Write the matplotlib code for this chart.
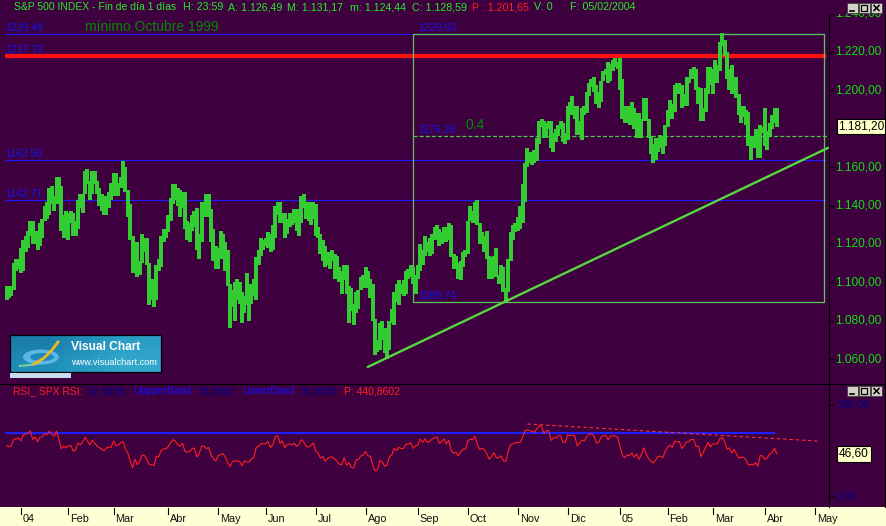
import numpy as np
import pandas as pd
import matplotlib
matplotlib.use("Agg")
import matplotlib.pyplot as plt
from matplotlib.patches import Rectangle, Ellipse

plt.rcParams['font.family'] = ['Liberation Sans', 'DejaVu Sans']
plt.rcParams['lines.scale_dashes'] = False

# ---------------- data (S&P 500 daily bars, 23-Dec-2003 .. 08-Apr-2005) ----------------
pre_close = [1043.6, 1034.2, 1042.4, 1033.7, 1035.3, 1052.1, 1053.9, 1058.5, 1058.2,
             1070.1, 1066.6, 1064.7, 1069.7, 1061.5, 1069.3, 1060.2, 1059.1, 1068.0,
             1071.2, 1068.0, 1075.1, 1076.5, 1089.2, 1088.7, 1092.9]

close = [
    1096.0, 1094.0, 1095.9, 1109.5, 1109.6, 1111.9,
    1108.5, 1122.2, 1123.7, 1126.3, 1131.9, 1121.9, 1127.2, 1121.2, 1130.5, 1132.1, 1139.8, 1138.8, 1147.6, 1143.9, 1141.6, 1155.4, 1144.1, 1128.5, 1134.1, 1131.1,
    1135.3, 1136.0, 1126.5, 1128.6, 1142.8, 1139.8, 1145.5, 1157.8, 1152.1, 1145.8, 1157.0, 1151.8, 1147.1, 1144.1, 1141.0, 1139.1, 1143.7, 1144.9, 1144.9,
    1156.0, 1149.1, 1151.0, 1154.9, 1156.9, 1147.2, 1140.6, 1123.9, 1106.8, 1120.6, 1104.5, 1110.7, 1123.8, 1122.3, 1109.8, 1095.4, 1094.0, 1091.3, 1109.2, 1108.1, 1122.5, 1127.0, 1126.2,
    1132.2, 1141.8, 1150.6, 1148.2, 1140.5, 1139.3, 1145.2, 1129.4, 1128.2, 1128.8, 1134.6, 1135.8, 1118.2, 1124.1, 1139.9, 1140.6, 1135.5, 1138.1, 1122.4, 1113.9, 1107.3,
    1117.5, 1119.6, 1121.5, 1114.0, 1098.7, 1087.1, 1095.5, 1097.3, 1096.4, 1095.7, 1084.1, 1091.5, 1088.7, 1089.2, 1093.6, 1095.4, 1113.1, 1114.9, 1121.3, 1120.7,
    1121.2, 1125.0, 1116.6, 1122.5, 1140.4, 1142.2, 1131.3, 1136.5, 1125.3, 1132.0, 1133.6, 1132.1, 1135.0, 1130.3, 1134.4, 1144.1, 1140.7, 1134.4, 1133.4, 1136.2, 1140.8,
    1128.9, 1125.4, 1116.2, 1118.3, 1109.1, 1112.8, 1114.4, 1115.1, 1111.5, 1106.7, 1101.4, 1100.9, 1108.7, 1093.9, 1096.8, 1086.2, 1084.1, 1094.8, 1095.4, 1100.4, 1101.7,
    1106.6, 1099.7, 1098.6, 1080.7, 1064.0, 1065.2, 1079.0, 1075.8, 1063.2, 1064.8, 1079.3, 1081.7, 1095.2, 1091.2, 1098.4, 1095.7, 1096.2, 1105.0, 1105.1, 1107.8, 1099.2, 1104.2,
    1105.9, 1118.3, 1113.6, 1121.3, 1116.3, 1118.4, 1123.9, 1125.8, 1128.3, 1120.4, 1123.5, 1128.6, 1122.2, 1129.3, 1113.6, 1108.4, 1110.1, 1103.5, 1110.1, 1114.8, 1114.6,
    1131.5, 1135.2, 1134.5, 1142.1, 1130.7, 1122.1, 1124.4, 1121.8, 1113.7, 1103.3, 1108.2, 1114.0, 1103.2, 1103.7, 1106.5, 1095.7, 1094.8, 1111.1, 1125.4, 1127.4, 1130.2,
    1130.5, 1130.6, 1143.2, 1161.7, 1166.2, 1164.9, 1164.1, 1162.9, 1173.5, 1184.2, 1183.8, 1175.4, 1181.9, 1183.6, 1170.3, 1177.2, 1176.9, 1181.8, 1182.7, 1173.8, 1173.8,
    1191.4, 1190.3, 1191.2, 1190.3, 1177.1, 1182.8, 1189.2, 1188.0, 1198.7, 1203.4, 1205.7, 1203.2, 1194.2, 1194.7, 1205.5, 1209.6, 1210.1, 1204.9, 1213.5, 1213.5, 1213.6, 1211.9,
    1202.1, 1188.1, 1183.7, 1187.9, 1186.2, 1190.3, 1183.0, 1187.7, 1177.5, 1184.5, 1196.0, 1184.6, 1175.4, 1167.9, 1163.8, 1168.4, 1174.1, 1174.6, 1171.4, 1181.3,
    1189.4, 1193.2, 1189.9, 1203.0, 1201.7, 1202.3, 1192.0, 1197.0, 1205.3, 1206.1, 1210.1, 1210.3, 1200.8, 1201.6, 1184.2, 1190.8, 1200.2, 1211.4, 1203.6,
    1210.4, 1210.1, 1210.5, 1222.1, 1225.3, 1219.4, 1207.0, 1209.3, 1200.1, 1206.8, 1197.8, 1188.1, 1190.2, 1189.7, 1183.8, 1171.7, 1172.5, 1171.4, 1174.3, 1165.4, 1181.4, 1180.6,
    1172.9, 1176.1, 1181.4, 1184.1, 1191.1, 1181.2,
]

high = [
    1098, 1098, 1098, 1110, 1112, 1112,
    1118, 1122, 1124, 1127, 1132, 1132, 1127, 1127, 1131, 1133, 1140, 1142, 1149, 1150, 1145, 1155, 1155, 1150, 1135, 1137,
    1136, 1137, 1136, 1132, 1143, 1146, 1146, 1158, 1159, 1153, 1158, 1158, 1153, 1149, 1146, 1145, 1145, 1147, 1152,
    1157, 1157, 1152, 1155, 1163, 1160, 1148, 1141, 1124, 1121, 1121, 1111, 1125, 1123, 1123, 1110, 1102, 1099, 1109, 1112, 1124, 1128, 1128,
    1135, 1144, 1151, 1151, 1149, 1148, 1147, 1147, 1132, 1131, 1135, 1137, 1139, 1125, 1142, 1142, 1146, 1146, 1138, 1128, 1119,
    1118, 1127, 1125, 1121, 1117, 1099, 1096, 1100, 1102, 1100, 1095, 1093, 1105, 1093, 1099, 1102, 1113, 1117, 1123, 1122,
    1123, 1126, 1125, 1130, 1140, 1142, 1142, 1136, 1136, 1133, 1136, 1133, 1138, 1138, 1135, 1145, 1146, 1142, 1142, 1138, 1142,
    1141, 1129, 1125, 1122, 1119, 1116, 1116, 1117, 1115, 1114, 1108, 1106, 1109, 1109, 1098, 1097, 1089, 1095, 1096, 1103, 1104,
    1108, 1106, 1102, 1099, 1081, 1070, 1079, 1080, 1076, 1069, 1080, 1086, 1095, 1099, 1101, 1099, 1101, 1106, 1107, 1109, 1108, 1104,
    1109, 1120, 1117, 1124, 1121, 1123, 1125, 1129, 1130, 1128, 1126, 1129, 1129, 1131, 1130, 1115, 1114, 1110, 1111, 1116, 1117,
    1132, 1140, 1137, 1142, 1143, 1131, 1126, 1124, 1127, 1114, 1113, 1114, 1118, 1104, 1109, 1108, 1097, 1112, 1126, 1130, 1131,
    1134, 1140, 1151, 1162, 1170, 1168, 1168, 1169, 1175, 1184, 1185, 1184, 1183, 1184, 1184, 1178, 1180, 1182, 1184, 1183, 1178,
    1192, 1194, 1197, 1192, 1192, 1184, 1191, 1192, 1199, 1204, 1206, 1207, 1203, 1199, 1205, 1210, 1211, 1215, 1214, 1216, 1217, 1215,
    1217, 1206, 1192, 1192, 1192, 1194, 1191, 1188, 1188, 1185, 1196, 1196, 1185, 1176, 1172, 1175, 1175, 1177, 1176, 1182,
    1190, 1195, 1193, 1203, 1204, 1204, 1203, 1198, 1207, 1207, 1211, 1212, 1211, 1202, 1201, 1191, 1201, 1212, 1212,
    1211, 1216, 1213, 1225, 1230, 1226, 1220, 1211, 1213, 1207, 1207, 1198, 1192, 1192, 1190, 1189, 1176, 1176, 1180, 1178, 1182, 1181,
    1191, 1179, 1183, 1187, 1191, 1191,
]

low = [
    1091, 1092, 1093, 1096, 1106, 1107,
    1105, 1106, 1116, 1118, 1124, 1120, 1120, 1117, 1119, 1123, 1132, 1133, 1135, 1141, 1137, 1141, 1143, 1127, 1123, 1127,
    1122, 1131, 1124, 1124, 1128, 1139, 1136, 1146, 1151, 1143, 1146, 1151, 1146, 1140, 1137, 1135, 1135, 1139, 1143,
    1145, 1148, 1145, 1149, 1149, 1147, 1134, 1122, 1105, 1107, 1103, 1104, 1110, 1116, 1109, 1088, 1091, 1087, 1091, 1106, 1108, 1121, 1123,
    1126, 1132, 1141, 1143, 1140, 1134, 1139, 1128, 1122, 1121, 1127, 1129, 1117, 1112, 1121, 1135, 1134, 1134, 1121, 1111, 1107,
    1107, 1112, 1113, 1106, 1098, 1076, 1087, 1080, 1091, 1089, 1079, 1084, 1088, 1080, 1089, 1093, 1091, 1109, 1114, 1117,
    1119, 1118, 1116, 1117, 1123, 1135, 1131, 1131, 1123, 1125, 1129, 1130, 1131, 1127, 1124, 1131, 1139, 1133, 1132, 1130, 1133,
    1124, 1123, 1115, 1111, 1108, 1109, 1107, 1111, 1102, 1106, 1100, 1094, 1101, 1094, 1079, 1085, 1078, 1084, 1086, 1096, 1097,
    1097, 1098, 1092, 1080, 1062, 1064, 1065, 1070, 1063, 1060, 1065, 1079, 1078, 1090, 1088, 1094, 1093, 1094, 1102, 1103, 1099, 1094,
    1102, 1106, 1109, 1114, 1116, 1114, 1115, 1122, 1123, 1119, 1120, 1123, 1121, 1122, 1113, 1107, 1107, 1102, 1101, 1108, 1113,
    1115, 1132, 1131, 1132, 1130, 1120, 1122, 1116, 1112, 1102, 1102, 1103, 1103, 1099, 1099, 1095, 1090, 1095, 1111, 1122, 1126,
    1127, 1128, 1131, 1142, 1160, 1162, 1161, 1162, 1163, 1172, 1181, 1175, 1175, 1180, 1170, 1168, 1173, 1176, 1180, 1173, 1172,
    1174, 1188, 1187, 1185, 1177, 1177, 1174, 1187, 1188, 1197, 1202, 1199, 1193, 1191, 1194, 1205, 1208, 1204, 1205, 1210, 1212, 1211,
    1200, 1185, 1183, 1183, 1182, 1184, 1180, 1175, 1175, 1175, 1184, 1184, 1175, 1167, 1162, 1164, 1168, 1170, 1167, 1171,
    1181, 1189, 1185, 1189, 1199, 1198, 1191, 1192, 1192, 1204, 1206, 1206, 1200, 1193, 1184, 1184, 1189, 1198, 1203,
    1198, 1207, 1204, 1210, 1223, 1218, 1206, 1200, 1198, 1200, 1196, 1187, 1183, 1186, 1182, 1171, 1164, 1170, 1170, 1165, 1165, 1178,
    1171, 1169, 1176, 1180, 1183, 1181,
]

holidays = ['2003-12-25', '2004-01-01', '2004-01-19', '2004-02-16', '2004-04-09', '2004-05-31',
            '2004-06-11', '2004-07-05', '2004-09-06', '2004-11-25', '2004-12-24', '2005-01-17',
            '2005-02-21', '2005-03-25']
month_starts = ['2004-01-01', '2004-02-01', '2004-03-01', '2004-04-01', '2004-05-01', '2004-06-01',
                '2004-07-01', '2004-08-01', '2004-09-01', '2004-10-01', '2004-11-01', '2004-12-01',
                '2005-01-01', '2005-02-01', '2005-03-01', '2005-04-01', '2005-05-01']
month_labels = ['04', 'Feb', 'Mar', 'Abr', 'May', 'Jun', 'Jul', 'Ago', 'Sep', 'Oct', 'Nov', 'Dic',
                '05', 'Feb', 'Mar', 'Abr', 'May']

price_ticks = [1060, 1080, 1100, 1120, 1140, 1160, 1180, 1200, 1220, 1240]
blue_levels = [1229.49, 1217.73, 1163.50, 1142.71]
red_level = 1217.73
box_start = '2004-08-30'
box_high, box_low = 1229.63, 1089.74
fib_level = 1176.26
trend_dates = ['2004-08-13', '2004-10-25']
trend_prices = [1060.72, 1090.19]
rsi_trend_dates = ['2004-11-05', '2005-05-03']
rsi_trend_vals = [79.3, 60.7]
rsi_period = 14
rsi_band = 70
last_price = 1181.20
last_rsi = 46.60

assert len(close) == len(high) == len(low)

# ---------------- layout helpers ----------------
W, H = 886, 526
BG = '#3f003f'
BAR = '#33cc33'
fig = plt.figure(figsize=(W / 100, H / 100), dpi=100)
fig.patch.set_facecolor(BG)


def px_axes(x0, y0, x1, y1):
    return fig.add_axes([x0 / W, 1 - y1 / H, (x1 - x0) / W, (y1 - y0) / H])


X0_PX, BAR_PX = 6.6, 2.3775
def xd(px):
    return (px - X0_PX) / BAR_PX

PT_PX, Y1220 = 1.92, 52.0
def price_at(ypx):
    return 1220 - (ypx - Y1220) / PT_PX

RSI_PX, Y0RSI = 0.917, 496.7
def rsi_at(ypx):
    return (Y0RSI - ypx) / RSI_PX


cbd = pd.offsets.CustomBusinessDay(holidays=holidays)
all_dates = pd.date_range('2003-12-23', '2005-06-30', freq=cbd)
idx = np.arange(len(close))


def date_idx(d):
    return int(np.searchsorted(all_dates.values, np.datetime64(pd.Timestamp(d))))


def fmt(v, nd=2):
    s = f"{v:,.{nd}f}"
    return s.replace(',', 'X').replace('.', ',').replace('X', '.')


# ---------------- price panel ----------------
ax = px_axes(0, 14, 829, 383)
ax.set_xlim(xd(0), xd(829))
ax.set_ylim(price_at(383), price_at(14))
ax.axis('off')

lx0, lx1 = xd(5), xd(826)
ax.hlines(blue_levels, lx0, lx1, colors='#1c1cff', lw=0.8, zorder=2)
ax.hlines(red_level, lx0, lx1, colors='#ff1010', lw=3.0, zorder=2)
for lv in blue_levels:
    ax.annotate(f"{lv:.2f}", (lx0, lv), xytext=(0, 3), textcoords='offset pixels',
                color='#1414f0', fontsize=7.6, va='baseline', ha='left', zorder=3)

bx0 = date_idx(box_start)
bx1 = xd(824)
ax.add_patch(Rectangle((bx0, box_low), bx1 - bx0, box_high - box_low, fill=False,
                       edgecolor='#5cc85c', lw=0.9, zorder=3))
ax.hlines(fib_level, bx0, xd(829), colors='#4cc84c', lw=0.9, linestyles=(0, (2.9, 1.5)), zorder=3)
for lv in [box_high, fib_level, box_low]:
    ax.annotate(f"{lv:.2f}", (bx0, lv), xytext=(5, 3), textcoords='offset pixels',
                color='#1414f0', fontsize=7.6, va='baseline', ha='left', zorder=3)
ax.annotate('0.4', (xd(466), fib_level), xytext=(0, 7), textcoords='offset pixels',
            color='#008a00', fontsize=10, va='baseline', ha='left', zorder=3)

# bars
ax.vlines(idx, low, high, color=BAR, lw=1.6, antialiased=False, zorder=4)

# trend line
t0, t1 = date_idx(trend_dates[0]), date_idx(trend_dates[1])
slope = (trend_prices[1] - trend_prices[0]) / (t1 - t0)
tx = np.array([xd(368), xd(828)])
ax.plot(tx, trend_prices[0] + slope * (tx - t0), color='#55d840', lw=1.7, zorder=5)

# right price scale
rax = px_axes(829, 14, 886, 383)
rax.set_xlim(0, 57)
rax.set_ylim(price_at(383), price_at(14))
rax.axis('off')
bh = 15 / PT_PX
for v in price_ticks:
    rax.plot([0, 4], [v, v], color='black', lw=0.8)
    if abs(v - last_price) < bh:
        continue  # hidden behind the last-price box
    t = rax.text(6.5, v, fmt(v), color='#10e010', fontsize=8.6, va='center', ha='left',
                 clip_on=True)
    t.set_clip_box(rax.bbox)
rax.add_patch(Rectangle((7.5, last_price - bh / 2), 50, bh, facecolor='#ffffc8',
                        edgecolor='black', lw=0.8, zorder=5))
rax.text(9, last_price, fmt(last_price), color='black', fontsize=8.6, va='center',
         ha='left', zorder=6)

# ---------------- RSI panel ----------------
allc = pd.Series(pre_close + close, dtype=float)
d = allc.diff()
up = d.clip(lower=0).ewm(alpha=1 / rsi_period, adjust=False).mean()
dn = (-d.clip(upper=0)).ewm(alpha=1 / rsi_period, adjust=False).mean()
rsi = (100 - 100 / (1 + up / dn)).values[len(pre_close):]

rx = px_axes(0, 384, 829, 507)
rx.set_xlim(xd(0), xd(829))
rx.set_ylim(rsi_at(507), rsi_at(384))
rx.axis('off')
rx.hlines(rsi_band, xd(5), xd(775), colors='#2020ff', lw=1.5, zorder=2)
rx.plot(idx, rsi, color='#ff2020', lw=0.8, zorder=3)
r0, r1 = date_idx(rsi_trend_dates[0]), date_idx(rsi_trend_dates[1])
rx.plot([r0, r1], rsi_trend_vals, color='#ff3030', lw=0.8, linestyle=(0, (2.5, 2.0)), zorder=3)

rrx = px_axes(829, 384, 886, 507)
rrx.set_xlim(0, 57)
rrx.set_ylim(rsi_at(507), rsi_at(384))
rrx.axis('off')
for v in [100, 0]:
    rrx.plot([0, 4], [v, v], color='black', lw=0.8)
    rrx.text(7, v, fmt(v), color='#00008c', fontsize=7.8, va='center', ha='left')
rh = 16 / RSI_PX
rrx.add_patch(Rectangle((7.5, last_rsi - rh / 2), 34.5, rh, facecolor='#ffffc8',
                        edgecolor='black', lw=0.8, zorder=5))
rrx.text(9.5, last_rsi, fmt(last_rsi), color='black', fontsize=8.6, va='center', ha='left', zorder=6)

# ---------------- date strip ----------------
sx = px_axes(0, 507, 886, 526)
sx.set_xlim(xd(0), xd(886))
sx.set_ylim(19, 0)
sx.axis('off')
sx.add_patch(Rectangle((0, 0), 1, 1, transform=sx.transAxes, facecolor='#ffffd6',
                       edgecolor='none', zorder=0))
for ms, lab in zip(month_starts, month_labels):
    p = date_idx(ms)
    sx.plot([p, p], [0.5, 6.5], color='black', lw=0.8, zorder=2)
    sx.text(p + 2 / BAR_PX, 12.5, lab, color='#101010', fontsize=7.8, va='center', ha='left',
            zorder=3, family=['Liberation Sans Narrow', 'Liberation Sans', 'DejaVu Sans'])

# ---------------- overlay (frame, texts, logo) ----------------
ov = px_axes(0, 0, 886, 526)
ov.set_xlim(0, 886)
ov.set_ylim(526, 0)
ov.axis('off')
ov.set_zorder(10)

lw1 = 0.75
ov.plot([829.5, 829.5], [14, 507], color='black', lw=lw1)
ov.plot([885.5, 885.5], [14, 507], color='black', lw=lw1)
ov.plot([0, 886], [383.5, 383.5], color='black', lw=lw1)

GREEN_T = '#22ee22'
hdr = [(14, 'S&P 500 INDEX - Fin de día 1 días', GREEN_T, 7.5), (183, 'H: 23:59', GREEN_T, 7.7),
       (228, 'A: 1.126,49', GREEN_T, 7.7), (287, 'M: 1.131,17', GREEN_T, 7.7),
       (350, 'm: 1.124,44', GREEN_T, 7.7), (412, 'C: 1.128,59', GREEN_T, 7.7),
       (472, 'P : 1.201,65', '#ff2020', 7.7), (534, 'V: 0', GREEN_T, 7.7),
       (570, 'F: 05/02/2004', GREEN_T, 7.7)]
for x, s, c, fs in hdr:
    ov.text(x, 7.5, s, color=c, fontsize=fs, va='center', ha='left')

rsi_hdr = [(13.5, 'RSI_.SPX RSI:', '#ff2020'), (87.5, '52,4858', '#000088'),
           (133, 'UppperBand:', '#1010ff'), (197, '70,0000', '#000088'),
           (242, 'LowerBand', '#1010ff'), (300, '30,0000', '#000088'),
           (344.5, 'P: 440,8602', '#ff2020')]
for x, s, c in rsi_hdr:
    ov.text(x, 391, s, color=c, fontsize=7.5, va='center', ha='left')

ov.text(85, 27, 'mínimo Octubre 1999', color='#008a00', fontsize=10, va='center', ha='left')


def buttons(y):
    for i, sym in enumerate(['min', 'max', 'close']):
        x = 847 + i * 12
        ov.add_patch(Rectangle((x, y), 11, 10, facecolor='#d4d0c8', edgecolor='#404040', lw=0.6))
        if sym == 'min':
            ov.plot([x + 3, x + 7], [y + 7.5, y + 7.5], color='black', lw=1.2)
        elif sym == 'max':
            ov.add_patch(Rectangle((x + 2.5, y + 2.2), 6, 5.5, fill=False, edgecolor='black', lw=0.9))
        else:
            ov.plot([x + 3, x + 8], [y + 2.5, y + 7.5], color='black', lw=1.1)
            ov.plot([x + 3, x + 8], [y + 7.5, y + 2.5], color='black', lw=1.1)


buttons(3)
buttons(386)

# logo
grad = np.array([[[0.10, 0.50, 0.67], [0.17, 0.62, 0.78]],
                 [[0.12, 0.55, 0.72], [0.20, 0.66, 0.80]]])
ov.imshow(grad, extent=(10, 161, 372, 335), aspect='auto', interpolation='bilinear', zorder=1)
ov.set_xlim(0, 886)
ov.set_ylim(526, 0)
ov.add_patch(Rectangle((10, 335), 151, 37, fill=False, edgecolor='black', lw=0.9, zorder=2))
ov.add_patch(Rectangle((10, 373), 61, 4.5, facecolor='#c8dcf0', edgecolor='none', zorder=2))
ov.add_patch(Ellipse((41, 357), 36, 15, facecolor='#5bb6ea', edgecolor='none', zorder=2))
ov.add_patch(Ellipse((42, 357), 24, 8, facecolor='#1e88bc', edgecolor='none', zorder=2))
ov.plot([20, 30, 40], [366, 365, 363], color='#7fd0a0', lw=1.5, zorder=3)
ov.plot([34, 44, 52, 58], [364, 358, 350, 342], color='#f2b820', lw=2.0, zorder=3)
ov.text(71, 347.5, 'Visual Chart', color='white', fontsize=8.6, fontweight='bold',
        va='center', ha='left', zorder=3)
ov.text(71, 362.5, 'www.visualchart.com', color='white', fontsize=6.6,
        va='center', ha='left', zorder=3)

fig.savefig('out.png', dpi=100, facecolor=fig.get_facecolor())
